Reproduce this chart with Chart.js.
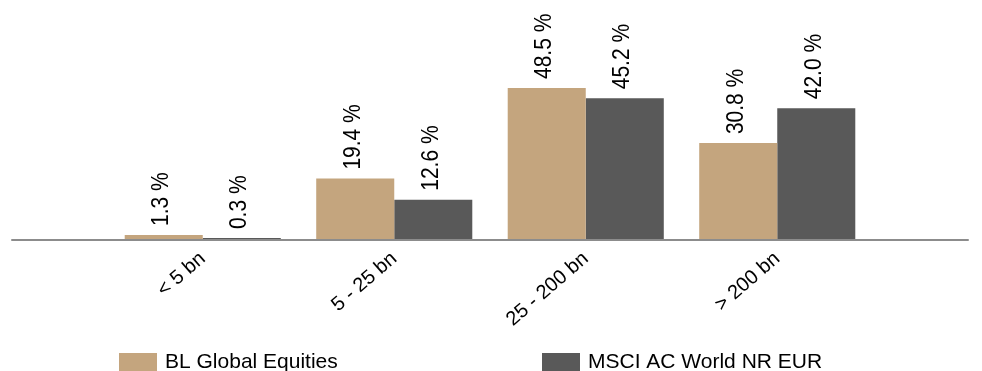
<!DOCTYPE html>
<html>
<head>
<meta charset="utf-8">
<script src="https://cdn.jsdelivr.net/npm/chart.js@4/dist/chart.umd.min.js"></script>
<style>
  html, body { margin: 0; padding: 0; background: #ffffff; }
  #wrap { width: 982px; height: 371px; position: relative; }
</style>
</head>
<body>
<div id="wrap"><canvas id="chart"></canvas></div>
<script>
// Market capitalisation buckets
const categories = ['< 5 bn', '5 - 25 bn', '25 - 200 bn', '> 200 bn'];
// Weight per bucket, in %
const fundWeights = [1.3, 19.4, 48.5, 30.8];
const indexWeights = [0.3, 12.6, 45.2, 42.0];
const seriesNames = ['BL Global Equities', 'MSCI AC World NR EUR'];
const seriesColors = ['#C4A57E', '#595959'];

const FONT = '"Liberation Sans", Arial, Helvetica, sans-serif';

// Baseline that runs one category past the first and last bucket
const baselinePlugin = {
  id: 'baseline',
  beforeDatasetsDraw(chart) {
    const x = chart.scales.x, y = chart.scales.y;
    const step = x.getPixelForValue(1) - x.getPixelForValue(0);
    const left = x.getPixelForValue(0) - step;
    const right = x.getPixelForValue(categories.length - 1) + step;
    const y0 = y.getPixelForValue(0);
    const ctx = chart.ctx;
    ctx.save();
    ctx.strokeStyle = '#8C8C8C';
    ctx.lineWidth = 2;
    ctx.beginPath();
    ctx.moveTo(left, y0 + 1);
    ctx.lineTo(right, y0 + 1);
    ctx.stroke();
    ctx.restore();
  }
};

// Vertical value labels above each bar
const valueLabelPlugin = {
  id: 'valueLabels',
  afterDatasetsDraw(chart) {
    const ctx = chart.ctx;
    ctx.save();
    ctx.font = '21px ' + FONT;
    ctx.fillStyle = '#000000';
    ctx.textAlign = 'left';
    ctx.textBaseline = 'middle';
    chart.data.datasets.forEach((ds, i) => {
      const meta = chart.getDatasetMeta(i);
      meta.data.forEach((bar, j) => {
        const text = ds.data[j].toFixed(1) + ' %';
        ctx.save();
        ctx.translate(bar.x - 2, bar.y - 9);
        ctx.rotate(-Math.PI / 2);
        ctx.scale(1.0, 1.15);
        ctx.fillText(text, 0, 0);
        ctx.restore();
      });
    });
    ctx.restore();
  }
};

// Legend row along the bottom edge
const legendPlugin = {
  id: 'bottomLegend',
  afterDraw(chart) {
    const ctx = chart.ctx;
    const items = [
      { box: 119, text: 165 },
      { box: 542, text: 588 }
    ];
    ctx.save();
    ctx.font = '21px ' + FONT;
    ctx.textAlign = 'left';
    ctx.textBaseline = 'alphabetic';
    items.forEach((it, i) => {
      ctx.fillStyle = seriesColors[i];
      ctx.fillRect(it.box, 353, 38, 24);
      ctx.fillStyle = '#000000';
      ctx.fillText(seriesNames[i], it.text, 368);
    });
    ctx.restore();
  }
};

new Chart(document.getElementById('chart'), {
  type: 'bar',
  data: {
    labels: categories,
    datasets: [
      { label: seriesNames[0], data: fundWeights, backgroundColor: seriesColors[0], borderWidth: 0 },
      { label: seriesNames[1], data: indexWeights, backgroundColor: seriesColors[1], borderWidth: 0 }
    ]
  },
  options: {
    responsive: true,
    maintainAspectRatio: false,
    animation: false,
    events: [],
    layout: { padding: { left: 107, right: 109, top: 5.5, bottom: 0 } },
    datasets: { bar: { categoryPercentage: 0.815, barPercentage: 1.0 } },
    plugins: { legend: { display: false }, tooltip: { enabled: false } },
    scales: {
      x: {
        grid: { display: false },
        border: { display: false },
        ticks: {
          color: '#000000',
          font: { family: FONT, size: 20 },
          minRotation: 41,
          maxRotation: 41,
          padding: 0,
          autoSkip: false
        },
        afterFit(scale) { scale.height = 132; }
      },
      y: {
        display: false,
        min: 0,
        max: 75
      }
    }
  },
  plugins: [baselinePlugin, valueLabelPlugin, legendPlugin]
});
</script>
</body>
</html>
